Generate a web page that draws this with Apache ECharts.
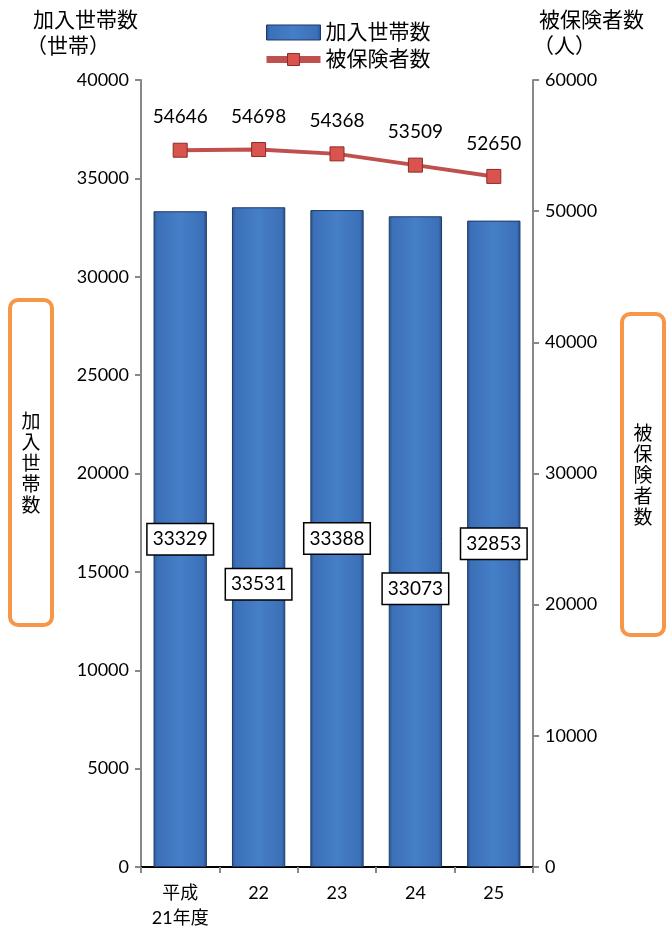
<!DOCTYPE html>
<html><head><meta charset="utf-8">
<script src="https://cdn.jsdelivr.net/npm/echarts@6/dist/echarts.min.js"></script>
<style>html,body{margin:0;padding:0;background:#fff}#c{width:666px;height:931px}</style>
</head><body><div id="c"></div>
<script>
var categories = ['平成\n21年度', '22', '23', '24', '25'];
var households = [33329, 33531, 33388, 33073, 32853];
var insured = [54646, 54698, 54368, 53509, 52650];
var labelOffsets = [0, 47, 0, 47, 0];

var FONT = "Lato, 'Noto Sans CJK JP', sans-serif";
var chart = echarts.init(document.getElementById('c'));
var barGrad = new echarts.graphic.LinearGradient(0, 0, 1, 0, [
  {offset: 0, color: '#2a558f'},
  {offset: 0.07, color: '#3c70b8'},
  {offset: 0.5, color: '#457fc7'},
  {offset: 0.93, color: '#3c70b8'},
  {offset: 1, color: '#27508a'}
]);
var plainNum = function (v) { return String(v); };
chart.setOption({
  animation: false,
  textStyle: {fontFamily: FONT},
  grid: {left: 141, right: 133, top: 80, bottom: 64},
  legend: {
    top: 17, left: 258, orient: 'vertical', itemGap: 6,
    itemWidth: 54, itemHeight: 15,
    textStyle: {fontSize: 21, color: '#000', fontFamily: FONT},
    data: [
      {name: '加入世帯数', icon: 'rect', itemStyle: {color: barGrad, borderColor: '#1d3a66', borderWidth: 1}},
      {name: '被保険者数', itemStyle: {color: '#d9534f', borderColor: '#8c2b28', borderWidth: 1}, lineStyle: {width: 7, color: '#c0504d'}}
    ]
  },
  xAxis: [{
    type: 'category', data: categories, position: 'bottom',
    axisLine: {lineStyle: {color: '#888', width: 2}},
    axisTick: {show: true, length: 6, lineStyle: {color: '#888', width: 2}},
    axisLabel: {fontSize: 18, color: '#000', margin: 14, lineHeight: 25, fontFamily: FONT}
  }, {
    type: 'category', data: categories, position: 'top',
    axisLine: {show: true, lineStyle: {color: '#000', width: 2}},
    axisTick: {show: false}, axisLabel: {show: false}
  }],
  yAxis: [{
    type: 'value', min: 0, max: 40000, interval: 5000, position: 'left',
    splitLine: {show: false},
    axisLine: {show: true, lineStyle: {color: '#888', width: 2}},
    axisTick: {show: true, length: 6, lineStyle: {color: '#888', width: 2}},
    axisLabel: {fontSize: 18, color: '#000', margin: 12, fontFamily: FONT, formatter: plainNum}
  }, {
    type: 'value', min: 0, max: 60000, interval: 10000, position: 'right',
    splitLine: {show: false},
    axisLine: {show: true, lineStyle: {color: '#888', width: 2}},
    axisTick: {show: true, length: 6, lineStyle: {color: '#888', width: 2}},
    axisLabel: {fontSize: 18, color: '#000', margin: 12, fontFamily: FONT, formatter: plainNum}
  }],
  series: [{
    name: '加入世帯数', type: 'bar', yAxisIndex: 0, barWidth: '68%',
    itemStyle: {color: barGrad, borderColor: '#1d3a66', borderWidth: 1},
    data: households.map(function (v, i) {
      return {value: v, label: {offset: [0, labelOffsets[i]]}};
    }),
    label: {
      show: true, position: 'inside', color: '#000', fontSize: 19, fontFamily: FONT,
      backgroundColor: '#fff', borderColor: '#000', borderWidth: 1.5,
      padding: [6, 5, 5, 5]
    }
  }, {
    name: '被保険者数', type: 'line', yAxisIndex: 1, data: insured,
    lineStyle: {color: '#c0504d', width: 4},
    symbol: 'rect', symbolSize: 14,
    itemStyle: {color: '#d9534f', borderColor: '#8c2b28', borderWidth: 1},
    label: {show: true, position: 'top', distance: 16, color: '#000', fontSize: 19, fontFamily: FONT},
    z: 5
  }],
  graphic: [
    {type: 'text', left: 33, top: 10, style: {text: '加入世帯数', fontSize: 21, fill: '#000', fontFamily: FONT}},
    {type: 'text', left: 26, top: 36, style: {text: '（世帯）', fontSize: 21, fill: '#000', fontFamily: FONT}},
    {type: 'text', left: 539, top: 10, style: {text: '被保険者数', fontSize: 21, fill: '#000', fontFamily: FONT}},
    {type: 'text', left: 533, top: 36, style: {text: '（人）', fontSize: 21, fill: '#000', fontFamily: FONT}},
    {type: 'rect', shape: {x: 10, y: 300, width: 42, height: 325, r: 8},
     style: {fill: '#fff', stroke: '#f79646', lineWidth: 4}},
    {type: 'text', x: 31, y: 464, style: {text: '加\n入\n世\n帯\n数', fontSize: 19, lineHeight: 21, align: 'center', verticalAlign: 'middle', fill: '#000', fontFamily: FONT}},
    {type: 'rect', shape: {x: 622, y: 314, width: 42, height: 321, r: 8},
     style: {fill: '#fff', stroke: '#f79646', lineWidth: 4}},
    {type: 'text', x: 643, y: 476, style: {text: '被\n保\n険\n者\n数', fontSize: 19, lineHeight: 21, align: 'center', verticalAlign: 'middle', fill: '#000', fontFamily: FONT}}
  ]
});
</script></body></html>
